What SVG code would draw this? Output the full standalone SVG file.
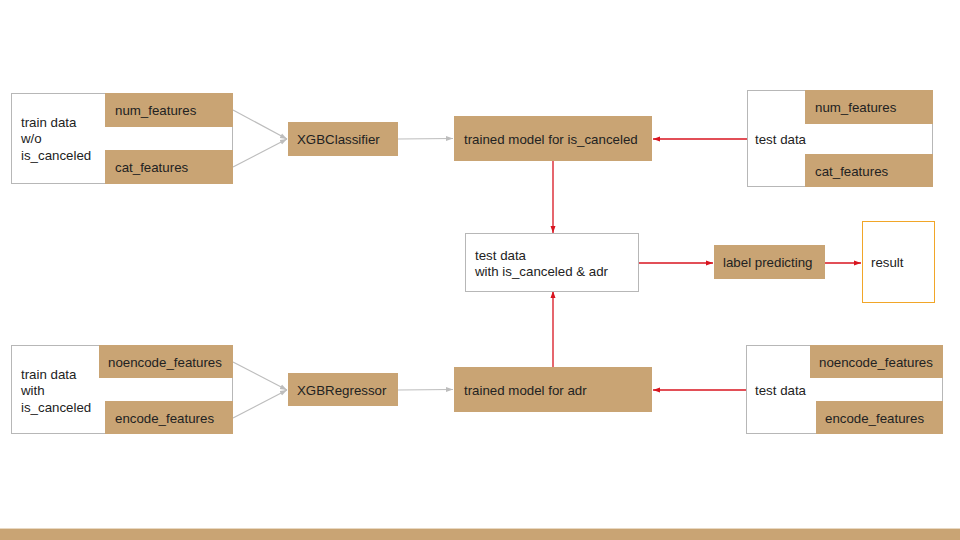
<svg xmlns="http://www.w3.org/2000/svg" width="960" height="540" viewBox="0 0 960 540">
<style>
.txt{font-family:"Liberation Sans",Arial,sans-serif;font-size:13.3px;fill:#222}
.out{fill:#fff;stroke:#b7b7b7;stroke-width:1}
.tan{fill:#c9a474;stroke:#c9a474;stroke-width:1}
.g{stroke:#bdbdbd;stroke-width:1.2;fill:none}
.r{stroke:#d8141f;stroke-width:1.3;fill:none}
</style>
<defs>
<marker id="ag" markerWidth="8" markerHeight="8" refX="7" refY="4" orient="auto" markerUnits="userSpaceOnUse"><path d="M0,1.5 L7,4 L0,6.5 Z" fill="#bdbdbd"/></marker>
<marker id="ar" markerWidth="8" markerHeight="8" refX="7" refY="4" orient="auto" markerUnits="userSpaceOnUse"><path d="M0,1.5 L7,4 L0,6.5 Z" fill="#d8141f"/></marker>
</defs>
<rect width="960" height="540" fill="#fff"/>
<rect x="0" y="529" width="960" height="11" fill="#c9a474"/>
<line x1="0" y1="528.5" x2="960" y2="528.5" stroke="#e8d8c2" stroke-width="1"/>

<g id="connectors">
<line class="g" x1="233" y1="110" x2="287" y2="139" marker-end="url(#ag)"/>
<line class="g" x1="233" y1="167" x2="287" y2="139" marker-end="url(#ag)"/>
<line class="g" x1="398" y1="139" x2="453" y2="138.5" marker-end="url(#ag)"/>
<line class="r" x1="747" y1="139" x2="653" y2="139" marker-end="url(#ar)"/>
<line class="r" x1="553" y1="161" x2="553" y2="233" marker-end="url(#ar)"/>
<line class="r" x1="553" y1="367" x2="553" y2="291" marker-end="url(#ar)"/>
<line class="r" x1="639" y1="263" x2="713" y2="263" marker-end="url(#ar)"/>
<line class="r" x1="824" y1="263" x2="861" y2="263" marker-end="url(#ar)"/>
<line class="g" x1="233" y1="362" x2="287" y2="390" marker-end="url(#ag)"/>
<line class="g" x1="233" y1="418" x2="287" y2="390" marker-end="url(#ag)"/>
<line class="g" x1="398" y1="390" x2="453" y2="389.5" marker-end="url(#ag)"/>
<line class="r" x1="746" y1="390" x2="653" y2="390" marker-end="url(#ar)"/>
</g>

<g id="train1">
<rect class="out" x="11.5" y="93.5" width="221" height="90"/>
<rect class="tan" x="105.5" y="93.5" width="127" height="33"/>
<rect class="tan" x="105.5" y="150.5" width="127" height="33"/>
<text class="txt" x="21" y="127">train data</text>
<text class="txt" x="21" y="143">w/o</text>
<text class="txt" x="21" y="160">is_canceled</text>
<text class="txt" x="115" y="115">num_features</text>
<text class="txt" x="115" y="172">cat_features</text>
</g>

<g id="xgbc">
<rect class="tan" x="288.5" y="122.5" width="109" height="33"/>
<text class="txt" x="297" y="144">XGBClassifier</text>
</g>

<g id="model_cancel">
<rect class="tan" x="454.5" y="116.5" width="197" height="44"/>
<text class="txt" x="464" y="144">trained model for is_canceled</text>
</g>

<g id="test1">
<rect class="out" x="747.5" y="90.5" width="185" height="96"/>
<rect class="tan" x="805.5" y="90.5" width="127" height="33"/>
<rect class="tan" x="805.5" y="154.5" width="127" height="32"/>
<text class="txt" x="755" y="144">test data</text>
<text class="txt" x="815" y="112">num_features</text>
<text class="txt" x="815" y="176">cat_features</text>
</g>

<g id="test_mid">
<rect class="out" x="465.5" y="233.5" width="173" height="58"/>
<text class="txt" x="475" y="260">test data</text>
<text class="txt" x="475" y="276">with is_canceled &amp; adr</text>
</g>

<g id="label_pred">
<rect class="tan" x="714.5" y="245.5" width="110" height="33"/>
<text class="txt" x="723" y="267">label predicting</text>
</g>

<g id="result">
<rect x="862.5" y="221.5" width="72" height="81" fill="#fff" stroke="#f1a628" stroke-width="1"/>
<text class="txt" x="871" y="267">result</text>
</g>

<g id="train2">
<rect class="out" x="11.5" y="345.5" width="221" height="88"/>
<rect class="tan" x="99.5" y="345.5" width="133" height="32"/>
<rect class="tan" x="105.5" y="401.5" width="127" height="32"/>
<text class="txt" x="21" y="379">train data</text>
<text class="txt" x="21" y="395">with</text>
<text class="txt" x="21" y="412">is_canceled</text>
<text class="txt" x="108" y="367">noencode_features</text>
<text class="txt" x="115" y="423">encode_features</text>
</g>

<g id="xgbr">
<rect class="tan" x="288.5" y="373.5" width="109" height="32"/>
<text class="txt" x="297" y="395">XGBRegressor</text>
</g>

<g id="model_adr">
<rect class="tan" x="454.5" y="367.5" width="197" height="44"/>
<text class="txt" x="464" y="395">trained model for adr</text>
</g>

<g id="test2">
<rect class="out" x="746.5" y="345.5" width="196" height="88"/>
<rect class="tan" x="810.5" y="345.5" width="132" height="32"/>
<rect class="tan" x="816.5" y="401.5" width="126" height="32"/>
<text class="txt" x="755" y="395">test data</text>
<text class="txt" x="819" y="367">noencode_features</text>
<text class="txt" x="825" y="423">encode_features</text>
</g>
</svg>
